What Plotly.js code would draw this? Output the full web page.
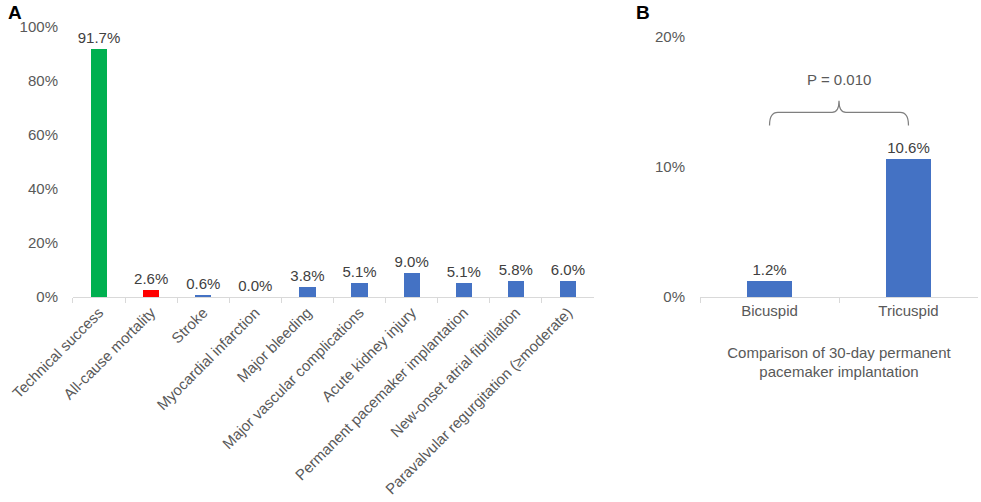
<!DOCTYPE html>
<html>
<head>
<meta charset="utf-8">
<script src="https://cdn.plot.ly/plotly-3.0.1.min.js"></script>
<style>
  html, body { margin: 0; padding: 0; background: #fff; }
  #chart { width: 981px; height: 502px; }
</style>
</head>
<body>
<div id="chart"></div>
<script>
// panel A: 30-day outcomes
let outcomes = ['Technical success', 'All-cause mortality', 'Stroke', 'Myocardial infarction',
  'Major bleeding', 'Major vascular complications', 'Acute kidney injury',
  'Permanent pacemaker implantation', 'New-onset atrial fibrillation',
  'Paravalvular regurgitation (≥moderate)']
let outcomeRates = [91.7, 2.6, 0.6, 0.0, 3.8, 5.1, 9.0, 5.1, 5.8, 6.0]
let outcomeColors = ['#00B050', '#FF0000', '#4472C4', '#4472C4', '#4472C4',
  '#4472C4', '#4472C4', '#4472C4', '#4472C4', '#4472C4']
let ticksA = [0, 20, 40, 60, 80, 100]
let tickTextA = ['0%', '20%', '40%', '60%', '80%', '100%']

// panel B: pacemaker by valve type
let valveTypes = ['Bicuspid', 'Tricuspid']
let pacemakerRates = [1.2, 10.6]
let ticksB = [0, 10, 20]
let tickTextB = ['0%', '10%', '20%']
let pValue = 'P = 0.010'

let font = 'Liberation Sans, Arial, sans-serif'
let grey = '#595959'
let axisGrey = '#d9d9d9'

let traceA = {
  x: outcomes,
  y: outcomeRates,
  type: 'bar',
  width: 0.31,
  marker: {color: outcomeColors},
  texttemplate: '%{y:.1f}%',
  textposition: 'outside',
  constraintext: 'none',
  cliponaxis: false,
  textfont: {family: font, size: 15, color: '#404040'},
  hoverinfo: 'none',
  xaxis: 'x',
  yaxis: 'y'
}

let traceB = {
  x: valveTypes,
  y: pacemakerRates,
  type: 'bar',
  width: 0.32,
  marker: {color: '#4472C4'},
  texttemplate: '%{y:.1f}%',
  textposition: 'outside',
  constraintext: 'none',
  cliponaxis: false,
  textfont: {family: font, size: 15, color: '#404040'},
  hoverinfo: 'none',
  xaxis: 'x2',
  yaxis: 'y2'
}

let xBase = {
  type: 'category',
  showline: true,
  linecolor: axisGrey,
  linewidth: 1,
  ticks: 'outside',
  tickson: 'boundaries',
  ticklen: 5,
  tickcolor: axisGrey,
  tickfont: {family: font, size: 15, color: grey},
  showgrid: false,
  zeroline: false,
  automargin: false,
  fixedrange: true
}

let yBase = {
  showline: false,
  showgrid: false,
  zeroline: false,
  ticks: '',
  tickmode: 'array',
  ticklabelstandoff: 14,
  tickfont: {family: font, size: 15, color: grey},
  automargin: false,
  fixedrange: true
}

// bracket over the two bars, in panel B data units
let bLow = 13.2, bMid = 14.2, bTop = 15.1
let bracket = 'M 0,' + bLow + ' Q 0,' + bMid + ' 0.06,' + bMid +
  ' L 0.45,' + bMid + ' Q 0.5,' + bMid + ' 0.5,' + bTop +
  ' Q 0.5,' + bMid + ' 0.55,' + bMid +
  ' L 0.94,' + bMid + ' Q 1,' + bMid + ' 1,' + bLow

let layout = {
  width: 981,
  height: 502,
  margin: {l: 0, r: 0, t: 0, b: 0},
  paper_bgcolor: '#fff',
  plot_bgcolor: '#fff',
  showlegend: false,
  bargap: 0,
  xaxis: Object.assign({}, xBase, {domain: [0.0744, 0.6055], tickangle: -45, anchor: 'y'}),
  yaxis: Object.assign({}, yBase, {domain: [0.4084, 0.9462], range: [0, 100],
    tickvals: ticksA, ticktext: tickTextA, anchor: 'x'}),
  xaxis2: Object.assign({}, xBase, {
    domain: [0.7136, 0.9969], tickangle: 0, anchor: 'y2',
    title: {text: 'Comparison of 30-day permanent<br>pacemaker implantation', standoff: 29,
      font: {family: font, size: 15, color: grey}}
  }),
  yaxis2: Object.assign({}, yBase, {domain: [0.4084, 0.9263], range: [0, 20],
    tickvals: ticksB, ticktext: tickTextB, anchor: 'x2'}),
  shapes: [{
    type: 'path',
    xref: 'x2',
    yref: 'y2',
    path: bracket,
    line: {color: '#7f7f7f', width: 1.2}
  }],
  annotations: [
    {text: '<b>A</b>', xref: 'paper', yref: 'paper', x: 0.006, y: 1.0, xanchor: 'left', yanchor: 'top',
      showarrow: false, font: {family: font, size: 19, color: '#000'}},
    {text: '<b>B</b>', xref: 'paper', yref: 'paper', x: 0.646, y: 1.0, xanchor: 'left', yanchor: 'top',
      showarrow: false, font: {family: font, size: 19, color: '#000'}},
    {text: pValue, xref: 'x2', yref: 'y2', x: 0.5, y: 16.7, showarrow: false,
      font: {family: font, size: 15, color: grey}}
  ]
}

Plotly.newPlot('chart', [traceA, traceB], layout, {displayModeBar: false, staticPlot: true})
</script>
</body>
</html>
